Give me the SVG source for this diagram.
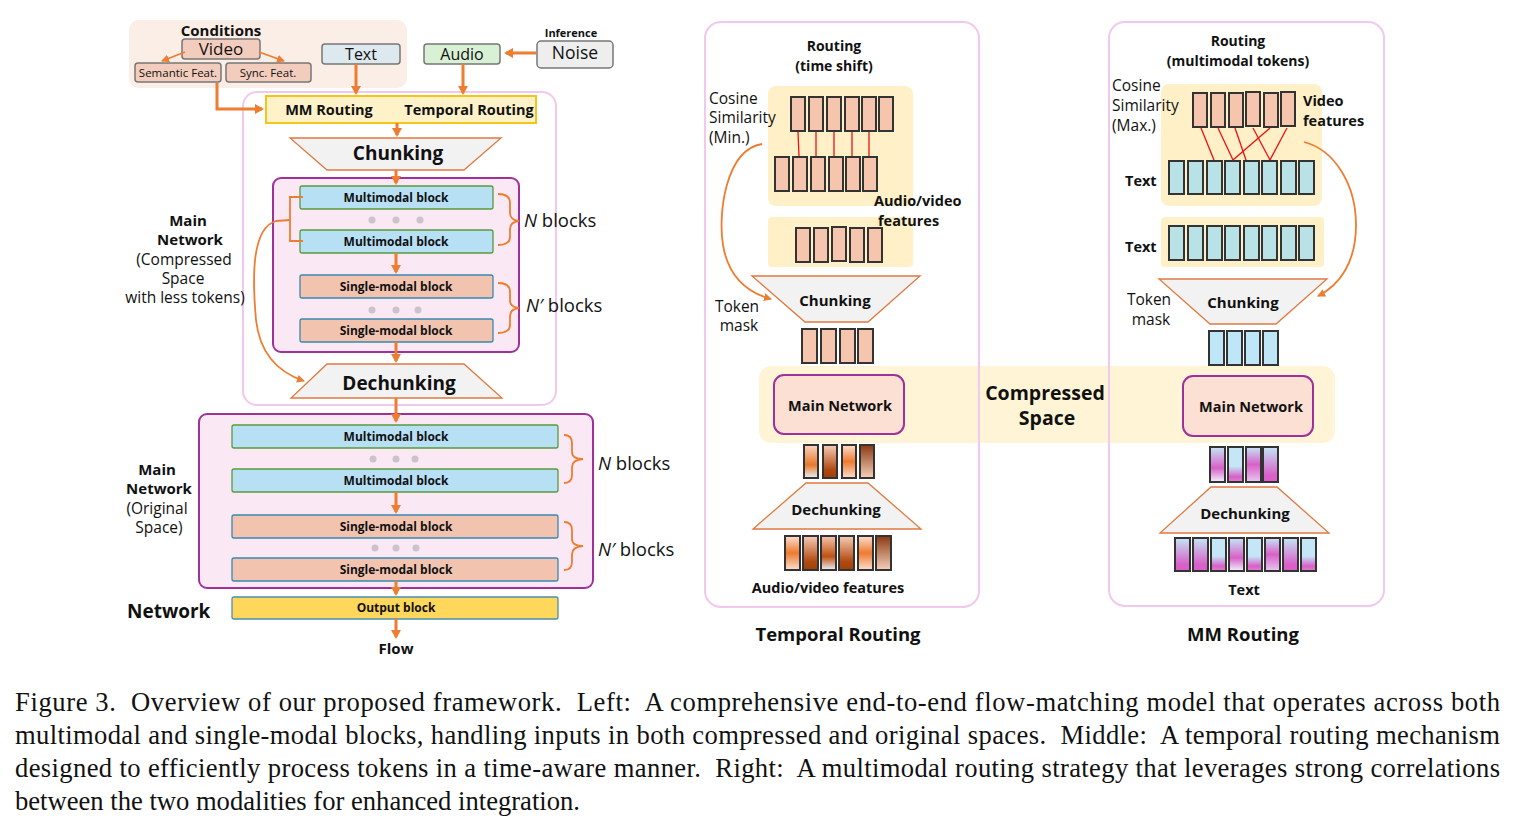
<svg xmlns="http://www.w3.org/2000/svg" width="1516" height="832" viewBox="0 0 1516 832">
<style>
text{font-family:"Open Sans","Liberation Sans",Arial,sans-serif;fill:#111}
.b{font-weight:bold}
.c{text-anchor:middle}
.n{font-size:15.5px}
.arr{stroke:#ed7d31;stroke-width:3;fill:none}
.thin{stroke:#ed7d31;stroke-width:1.8;fill:none}
.mm{fill:#b7e0f5;stroke:#5a9a3a;stroke-width:1.3}
.sm{fill:#f2c4b0;stroke:#3a88b0;stroke-width:1.3}
.pb{fill:#fbe8f5;stroke:#a0309a;stroke-width:2}
.trap{fill:#f2f2f2;stroke:#e07a40;stroke-width:1.3}
.dot{fill:#cbc3cb}
.tk{stroke:#333;stroke-width:2}
.pe{fill:#f5c5ae}
.cy{fill:#b9e2e6}
.lb{fill:#bfe6f6}
.yl{fill:#fff0c8}
.panel{fill:none;stroke:#f2c8ee;stroke-width:2}
.red{stroke:#f01010;stroke-width:1.3}
.cap{font-family:"Liberation Serif","Times New Roman",serif;font-size:26.6px;fill:#111;white-space:pre}
.mn{fill:#fbe0d3;stroke:#a0309a;stroke-width:2}
</style>
<defs>
<marker id="ah" markerWidth="10" markerHeight="10" refX="7" refY="5" orient="auto" markerUnits="userSpaceOnUse"><path d="M0,0 L9,5 L0,10 z" fill="#ed7d31"/></marker>
<marker id="ahs" markerWidth="9" markerHeight="9" refX="7" refY="4.5" orient="auto" markerUnits="userSpaceOnUse"><path d="M0,0.5 L8,4.5 L0,8.5 z" fill="#ed7d31"/></marker>
<linearGradient id="o1" x1="0" y1="0" x2="0" y2="1"><stop offset="0" stop-color="#f9d6c4"/><stop offset="0.6" stop-color="#e8782a"/><stop offset="1" stop-color="#e6f2fb"/></linearGradient>
<linearGradient id="o2" x1="0" y1="0" x2="0" y2="1"><stop offset="0" stop-color="#f6cdb8"/><stop offset="0.75" stop-color="#b04a10"/><stop offset="1" stop-color="#a04008"/></linearGradient>
<linearGradient id="o3" x1="0" y1="0" x2="0" y2="1"><stop offset="0" stop-color="#fbe0d2"/><stop offset="0.5" stop-color="#ee7a30"/><stop offset="1" stop-color="#fbe0d2"/></linearGradient>
<linearGradient id="o4" x1="0" y1="0" x2="0" y2="1"><stop offset="0" stop-color="#8a3a10"/><stop offset="1" stop-color="#f6d0bc"/></linearGradient>
<linearGradient id="o5" x1="0" y1="0" x2="0" y2="1"><stop offset="0" stop-color="#f5c7b0"/><stop offset="0.6" stop-color="#c05010"/><stop offset="1" stop-color="#e6f2fb"/></linearGradient>
<linearGradient id="p1" x1="0" y1="0" x2="0" y2="1"><stop offset="0" stop-color="#c4e6f6"/><stop offset="0.6" stop-color="#d860c8"/><stop offset="1" stop-color="#f0f4fc"/></linearGradient>
<linearGradient id="p2" x1="0" y1="0" x2="0" y2="1"><stop offset="0" stop-color="#c4e6f6"/><stop offset="0.55" stop-color="#c4e6f6"/><stop offset="0.85" stop-color="#d860c8"/><stop offset="1" stop-color="#e080d0"/></linearGradient>
<linearGradient id="p3" x1="0" y1="0" x2="0" y2="1"><stop offset="0" stop-color="#c4e6f6"/><stop offset="0.5" stop-color="#d860c8"/><stop offset="1" stop-color="#e8c8f0"/></linearGradient>
<linearGradient id="p4" x1="0" y1="0" x2="0" y2="1"><stop offset="0" stop-color="#c4e6f6"/><stop offset="0.8" stop-color="#d860c8"/><stop offset="1" stop-color="#d860c8"/></linearGradient>
</defs>
<rect width="1516" height="832" fill="#fff"/>

<!-- LEFT -->
<g id="conditions">
<rect x="129" y="20" width="278" height="68" rx="10" fill="#fbeee6"/>
<text x="221" y="36" class="b c" font-size="15">Conditions</text>
<rect x="182" y="39" width="78" height="20" rx="3" fill="#f2cdbd" stroke="#777" stroke-width="1.5"/>
<text x="221" y="55" class="c" font-size="17">Video</text>
<rect x="135" y="63" width="86" height="19" rx="3" fill="#f2cdbd" stroke="#777" stroke-width="1.5"/>
<text x="178" y="77" class="c" font-size="11.5">Semantic Feat.</text>
<rect x="226" y="63" width="85" height="19" rx="3" fill="#f2cdbd" stroke="#777" stroke-width="1.5"/>
<text x="268" y="77" class="c" font-size="11.5">Sync. Feat.</text>
</g>
<g id="text-in"><rect x="322" y="44" width="78" height="20" rx="3" fill="#dde9ef" stroke="#777" stroke-width="1.5"/><text x="361" y="60" class="c" font-size="16">Text</text></g>
<g id="audio-in"><rect x="424" y="44" width="76" height="20" rx="3" fill="#d8f0d4" stroke="#777" stroke-width="1.5"/><text x="462" y="60" class="c" font-size="16">Audio</text></g>
<g id="noise"><text x="571" y="37" class="b c" font-size="11">Inference</text><rect x="537" y="41" width="76" height="27" rx="4" fill="#eeeeee" stroke="#777" stroke-width="1.5"/><text x="575" y="59" class="c" font-size="17.5">Noise</text></g>

<g id="compressed-outer"><rect x="243" y="92" width="313" height="313" rx="14" fill="none" stroke="#f2c8ee" stroke-width="2"/></g>
<g id="routing-bar"><rect x="266" y="96" width="270" height="27" fill="#fff1c8" stroke="#f5c518" stroke-width="2"/>
<text x="329" y="115" class="b c" font-size="14.5">MM Routing</text><text x="469" y="115" class="b c" font-size="14.5">Temporal Routing</text></g>
<g id="chunk1"><polygon points="290,138 501,138 464,170 327,170" class="trap"/><text x="398" y="160" class="b c" font-size="19">Chunking</text></g>
<g id="main-compressed">
<rect x="273" y="178" width="246" height="174" rx="8" class="pb"/>
<rect x="300" y="186" width="193" height="23" rx="2" class="mm"/><text x="396" y="202" class="b c" font-size="12">Multimodal block</text>
<circle cx="372" cy="220" r="3.5" class="dot"/><circle cx="396" cy="220" r="3.5" class="dot"/><circle cx="420" cy="220" r="3.5" class="dot"/>
<rect x="300" y="230" width="193" height="23" rx="2" class="mm"/><text x="396" y="246" class="b c" font-size="12">Multimodal block</text>
<rect x="300" y="275" width="193" height="23" rx="2" class="sm"/><text x="396" y="291" class="b c" font-size="12">Single-modal block</text>
<circle cx="372" cy="310" r="3.5" class="dot"/><circle cx="396" cy="310" r="3.5" class="dot"/><circle cx="418" cy="310" r="3.5" class="dot"/>
<rect x="300" y="319" width="193" height="23" rx="2" class="sm"/><text x="396" y="335" class="b c" font-size="12">Single-modal block</text>
</g>
<g id="dechunk1"><polygon points="327,364 464,364 502,398 291,398" class="trap"/><text x="399" y="390" class="b c" font-size="19">Dechunking</text></g>
<g id="label-compressed">
<text x="188" y="226" class="b c" font-size="15">Main</text>
<text x="190" y="245" class="b c" font-size="15">Network</text>
<text x="184" y="265" class="c n">(Compressed</text>
<text x="183" y="284" class="c n">Space</text>
<text x="185" y="303" class="c n">with less tokens)</text>
</g>
<g id="nblocks1"><text x="524" y="227" font-size="18.5"><tspan font-style="italic">N</tspan> blocks</text><text x="526" y="312" font-size="18.5"><tspan font-style="italic">N′</tspan> blocks</text></g>

<g id="main-original">
<rect x="199" y="414" width="394" height="174" rx="8" class="pb"/>
<rect x="232" y="425" width="326" height="23" rx="2" class="mm"/><text x="396" y="441" class="b c" font-size="12">Multimodal block</text>
<circle cx="373" cy="459" r="3.5" class="dot"/><circle cx="396" cy="459" r="3.5" class="dot"/><circle cx="415" cy="459" r="3.5" class="dot"/>
<rect x="232" y="469" width="326" height="23" rx="2" class="mm"/><text x="396" y="485" class="b c" font-size="12">Multimodal block</text>
<rect x="232" y="515" width="326" height="23" rx="2" class="sm"/><text x="396" y="531" class="b c" font-size="12">Single-modal block</text>
<circle cx="375" cy="548" r="3.5" class="dot"/><circle cx="396" cy="548" r="3.5" class="dot"/><circle cx="416" cy="548" r="3.5" class="dot"/>
<rect x="232" y="558" width="326" height="23" rx="2" class="sm"/><text x="396" y="574" class="b c" font-size="12">Single-modal block</text>
</g>
<g id="label-original">
<text x="157" y="475" class="b c" font-size="15">Main</text>
<text x="159" y="494" class="b c" font-size="15">Network</text>
<text x="157" y="514" class="c n">(Original</text>
<text x="159" y="533" class="c n">Space)</text>
</g>
<g id="nblocks2"><text x="598" y="470" font-size="18.5"><tspan font-style="italic">N</tspan> blocks</text><text x="598" y="556" font-size="18.5"><tspan font-style="italic">N′</tspan> blocks</text></g>
<g id="output"><rect x="232" y="597" width="326" height="22" rx="2" fill="#ffd75a" stroke="#4a90b0" stroke-width="1.3"/><text x="396" y="612" class="b c" font-size="12">Output block</text></g>
<g id="network-label"><text x="127" y="618" class="b" font-size="19">Network</text></g>
<g id="flow"><text x="396" y="654" class="b c" font-size="15">Flow</text></g>

<!-- MIDDLE -->
<g id="temporal-panel">
<text x="834" y="51" class="b c" font-size="14">Routing</text>
<text x="834" y="71" class="b c" font-size="14">(time shift)</text>
<rect x="768" y="86" width="145" height="120" rx="8" class="yl"/>
<text x="709" y="104" class="n">Cosine</text>
<text x="709" y="123" class="n">Similarity</text>
<text x="709" y="143" class="n">(Min.)</text>
<g class="tk pe">
<rect x="791" y="97" width="14" height="34"/><rect x="809" y="97" width="14" height="34"/><rect x="827" y="97" width="14" height="34"/><rect x="845" y="97" width="14" height="34"/><rect x="862" y="97" width="14" height="34"/><rect x="879" y="97" width="14" height="34"/>
<rect x="775" y="157" width="14" height="34"/><rect x="793" y="157" width="14" height="34"/><rect x="811" y="157" width="14" height="34"/><rect x="829" y="157" width="14" height="34"/><rect x="846" y="157" width="14" height="34"/><rect x="863" y="157" width="14" height="34"/>
</g>
<g class="red"><line x1="798" y1="132" x2="799" y2="156"/><line x1="816" y1="132" x2="816" y2="156"/><line x1="834" y1="132" x2="834" y2="156"/><line x1="852" y1="132" x2="852" y2="156"/><line x1="869" y1="132" x2="869" y2="156"/></g>
<rect x="768" y="217" width="145" height="50" rx="4" class="yl"/>
<text x="874" y="206" class="b" font-size="14.5">Audio/video</text>
<text x="878" y="226" class="b" font-size="14.5">features</text>
<g class="tk pe"><rect x="796" y="228" width="14" height="34"/><rect x="814" y="228" width="14" height="34"/><rect x="832" y="227" width="14" height="34"/><rect x="850" y="228" width="14" height="34"/><rect x="868" y="228" width="14" height="34"/></g>
<polygon points="752,276 920,276 868,322 805,322" class="trap"/>
<text x="835" y="306" class="b c" font-size="15">Chunking</text>
<text x="737" y="312" class="c n">Token</text>
<text x="739" y="331" class="c n">mask</text>
<g class="tk pe"><rect x="802" y="329" width="15" height="34"/><rect x="821" y="329" width="15" height="34"/><rect x="840" y="329" width="15" height="34"/><rect x="858" y="329" width="15" height="34"/></g>
</g>

<g id="compressed-band"><rect x="759" y="366" width="576" height="77" rx="12" fill="#fff5d6"/>
<text x="1045" y="400" class="b c" font-size="19.5">Compressed</text>
<text x="1047" y="425" class="b c" font-size="19.5">Space</text></g>
<rect x="705" y="22" width="274" height="585" rx="16" class="panel"/>
<rect x="1109" y="22" width="275" height="584" rx="16" class="panel"/>

<g id="temporal-bottom">
<rect x="774" y="375" width="130" height="59" rx="10" class="mn"/>
<text x="840" y="411" class="b c" font-size="14.5">Main Network</text>
<g class="tk"><rect x="804" y="445" width="14" height="33" fill="url(#o1)"/><rect x="823" y="445" width="14" height="33" fill="url(#o2)"/><rect x="842" y="445" width="14" height="33" fill="url(#o3)"/><rect x="860" y="445" width="14" height="33" fill="url(#o4)"/></g>
<polygon points="806,483 868,483 921,529 753,529" class="trap"/>
<text x="836" y="515" class="b c" font-size="15">Dechunking</text>
<g class="tk"><rect x="785" y="536" width="15" height="34" fill="url(#o3)"/><rect x="803" y="536" width="15" height="34" fill="url(#o2)"/><rect x="821" y="536" width="15" height="34" fill="url(#o5)"/><rect x="839" y="536" width="15" height="34" fill="url(#o2)"/><rect x="858" y="536" width="15" height="34" fill="url(#o3)"/><rect x="876" y="536" width="15" height="34" fill="url(#o4)"/></g>
<text x="828" y="593" class="b c" font-size="14.5">Audio/video features</text>
<text x="838" y="641" class="b c" font-size="18.5">Temporal Routing</text>
</g>

<!-- RIGHT -->
<g id="mm-panel">
<text x="1238" y="46" class="b c" font-size="14">Routing</text>
<text x="1238" y="66" class="b c" font-size="14">(multimodal tokens)</text>
<rect x="1161" y="84" width="161" height="122" rx="8" class="yl"/>
<text x="1112" y="91" class="n">Cosine</text>
<text x="1112" y="111" class="n">Similarity</text>
<text x="1112" y="131" class="n">(Max.)</text>
<g class="tk pe"><rect x="1193" y="93" width="14" height="34"/><rect x="1211" y="93" width="14" height="34"/><rect x="1229" y="93" width="14" height="34"/><rect x="1246" y="92" width="14" height="34"/><rect x="1264" y="93" width="14" height="34"/><rect x="1281" y="92" width="14" height="34"/></g>
<text x="1303" y="106" class="b" font-size="14.5">Video</text>
<text x="1303" y="126" class="b" font-size="14.5">features</text>
<g class="tk cy"><rect x="1169" y="161" width="15" height="33"/><rect x="1188" y="161" width="15" height="33"/><rect x="1207" y="161" width="15" height="33"/><rect x="1225" y="161" width="15" height="33"/><rect x="1244" y="161" width="15" height="33"/><rect x="1262" y="161" width="15" height="33"/><rect x="1281" y="161" width="15" height="33"/><rect x="1299" y="161" width="15" height="33"/></g>
<g class="red"><line x1="1201" y1="128" x2="1214" y2="160"/><line x1="1218" y1="128" x2="1233" y2="160"/><line x1="1235" y1="128" x2="1246" y2="160"/><line x1="1253" y1="128" x2="1270" y2="160"/><line x1="1270" y1="128" x2="1233" y2="160"/><line x1="1287" y1="128" x2="1270" y2="160"/></g>
<text x="1125" y="186" class="b" font-size="14.5">Text</text>
<rect x="1161" y="217" width="163" height="50" rx="4" class="yl"/>
<g class="tk cy"><rect x="1169" y="226" width="15" height="34"/><rect x="1188" y="226" width="15" height="34"/><rect x="1207" y="226" width="15" height="34"/><rect x="1225" y="226" width="15" height="34"/><rect x="1244" y="226" width="15" height="34"/><rect x="1262" y="226" width="15" height="34"/><rect x="1281" y="226" width="15" height="34"/><rect x="1299" y="226" width="15" height="34"/></g>
<text x="1125" y="252" class="b" font-size="14.5">Text</text>
<polygon points="1159,279 1327,279 1276,324 1210,324" class="trap"/>
<text x="1243" y="308" class="b c" font-size="15">Chunking</text>
<text x="1149" y="305" class="c n">Token</text>
<text x="1151" y="325" class="c n">mask</text>
<g class="tk lb"><rect x="1209" y="331" width="15" height="34"/><rect x="1227" y="331" width="15" height="34"/><rect x="1245" y="331" width="15" height="34"/><rect x="1263" y="331" width="15" height="34"/></g>
</g>
<g id="mm-bottom">
<rect x="1183" y="376" width="130" height="60" rx="10" class="mn"/>
<text x="1251" y="412" class="b c" font-size="14.5">Main Network</text>
<g class="tk"><rect x="1210" y="447" width="15" height="35" fill="url(#p1)"/><rect x="1228" y="447" width="15" height="35" fill="url(#p2)"/><rect x="1246" y="447" width="15" height="35" fill="url(#p3)"/><rect x="1263" y="447" width="15" height="35" fill="url(#p4)"/></g>
<polygon points="1211,487 1277,487 1329,533 1160,533" class="trap"/>
<text x="1245" y="519" class="b c" font-size="15">Dechunking</text>
<g class="tk"><rect x="1175" y="538" width="15" height="33" fill="url(#p4)"/><rect x="1193" y="538" width="15" height="33" fill="url(#p4)"/><rect x="1211" y="538" width="15" height="33" fill="url(#p2)"/><rect x="1229" y="538" width="15" height="33" fill="url(#p1)"/><rect x="1247" y="538" width="15" height="33" fill="url(#p2)"/><rect x="1265" y="538" width="15" height="33" fill="url(#p3)"/><rect x="1283" y="538" width="15" height="33" fill="url(#p4)"/><rect x="1301" y="538" width="15" height="33" fill="url(#p2)"/></g>
<text x="1244" y="595" class="b c" font-size="14.5">Text</text>
<text x="1243" y="641" class="b c" font-size="18.5">MM Routing</text>
</g>

<g id="connectors">
<line x1="185" y1="52" x2="162" y2="61" class="thin" marker-end="url(#ahs)"/>
<line x1="259" y1="52" x2="284" y2="61" class="thin" marker-end="url(#ahs)"/>
<line x1="536" y1="53" x2="506" y2="53" class="arr" marker-end="url(#ah)"/>
<path d="M217,83 L217,109 L262,109" class="arr" marker-end="url(#ah)"/>
<line x1="356" y1="64" x2="356" y2="93" class="arr" marker-end="url(#ah)"/>
<line x1="463" y1="64" x2="463" y2="93" class="arr" marker-end="url(#ah)"/>
<line x1="397" y1="123" x2="397" y2="135" class="arr" marker-end="url(#ah)"/>
<line x1="396" y1="170" x2="396" y2="183" class="arr" marker-end="url(#ah)"/>
<line x1="396" y1="253" x2="396" y2="272" class="arr" marker-end="url(#ah)"/>
<line x1="396" y1="342" x2="396" y2="361" class="arr" marker-end="url(#ah)"/>
<line x1="396" y1="398" x2="396" y2="421" class="arr" marker-end="url(#ah)"/>
<line x1="396" y1="492" x2="396" y2="512" class="arr" marker-end="url(#ah)"/>
<line x1="396" y1="581" x2="396" y2="594" class="arr" marker-end="url(#ah)"/>
<line x1="396" y1="619" x2="396" y2="637" class="arr" marker-end="url(#ah)"/>
<path d="M498,194 Q510,194 510,203 L510,213 Q510,220 519,221 Q510,222 510,229 L510,237 Q510,245 498,245" class="thin"/>
<path d="M498,283 Q510,283 510,292 L510,301 Q510,307 519,308 Q510,309 510,316 L510,325 Q510,333 498,333" class="thin"/>
<path d="M564,435 Q572,435 572,443 L572,452 Q572,459 583,459 Q572,460 572,467 L572,475 Q572,483 564,483" class="thin"/>
<path d="M564,522 Q572,522 572,530 L572,539 Q572,546 583,546 Q572,547 572,554 L572,562 Q572,570 564,570" class="thin"/>
<path d="M303,197 L290,197 L290,241 L303,241" class="thin"/>
<path d="M290,220 L276,221 C252,228 252,275 256,320 C260,355 280,373 304,381" class="thin" marker-end="url(#ahs)"/>
<path d="M762,144 C725,150 718,215 723,245 C728,275 745,292 771,299" class="thin" marker-end="url(#ahs)"/>
<path d="M1304,142 C1335,150 1356,185 1356,225 C1356,262 1340,285 1318,296" class="thin" marker-end="url(#ahs)"/>
</g>

<g id="caption">
<text x="15" y="711" class="cap" textLength="1485" lengthAdjust="spacing">Figure 3.  Overview of our proposed framework.  Left:  A comprehensive end-to-end flow-matching model that operates across both</text>
<text x="15" y="744" class="cap" textLength="1485" lengthAdjust="spacing">multimodal and single-modal blocks, handling inputs in both compressed and original spaces.  Middle:  A temporal routing mechanism</text>
<text x="15" y="777" class="cap" textLength="1485" lengthAdjust="spacing">designed to efficiently process tokens in a time-aware manner.  Right:  A multimodal routing strategy that leverages strong correlations</text>
<text x="15" y="810" class="cap">between the two modalities for enhanced integration.</text>
</g>
</svg>
